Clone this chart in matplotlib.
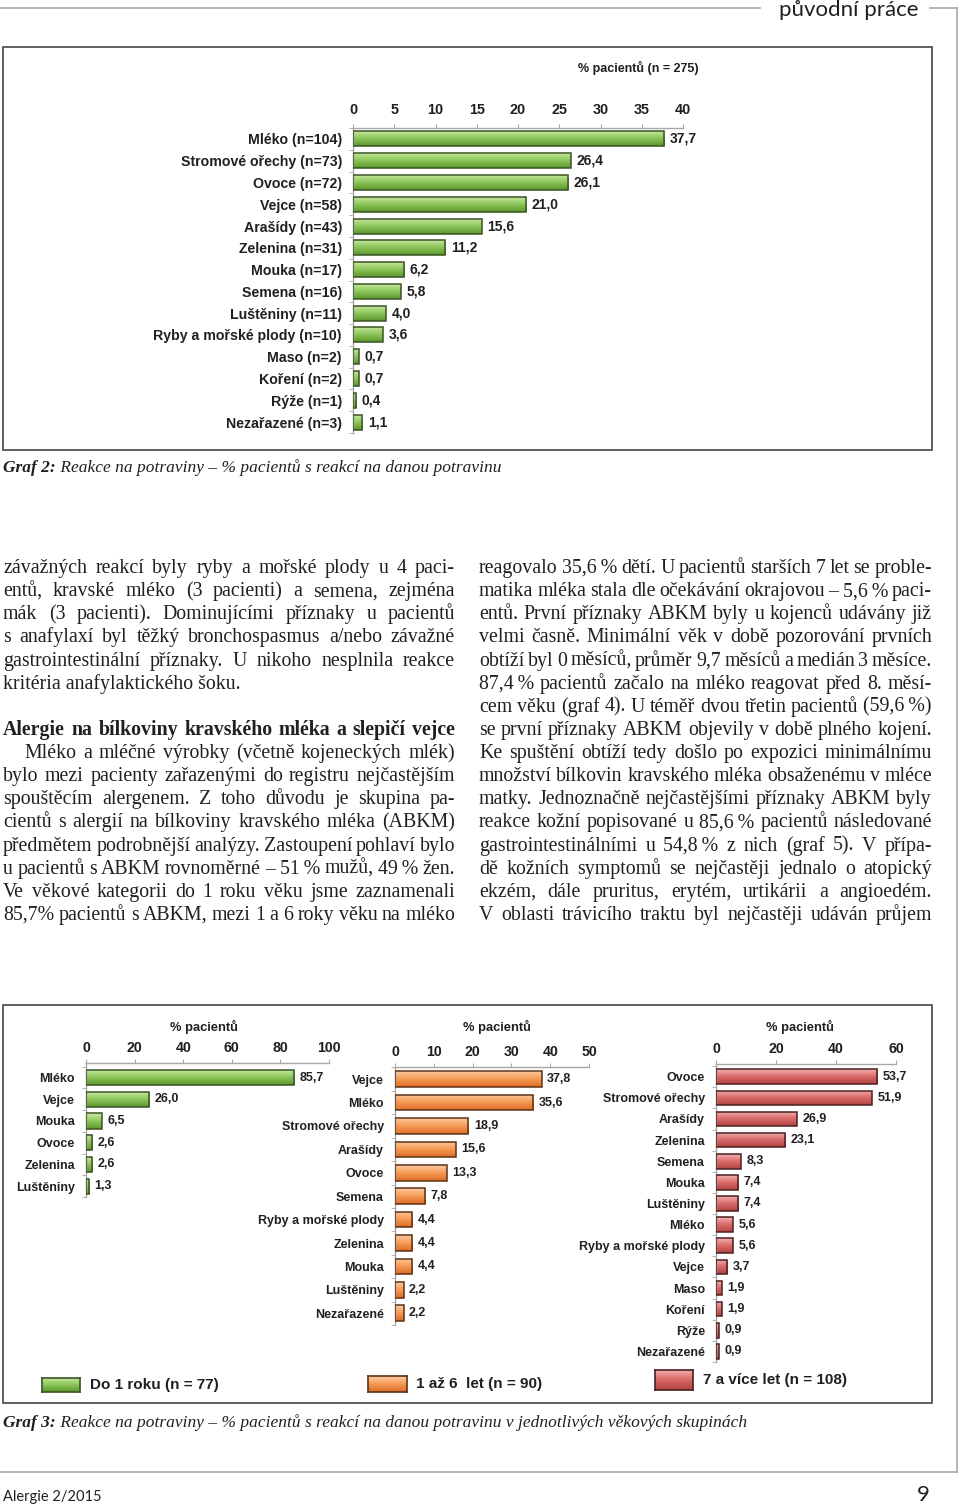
import numpy as np
import matplotlib
matplotlib.use('Agg')
import matplotlib.pyplot as plt
from matplotlib.colors import LinearSegmentedColormap
from matplotlib.lines import Line2D
from matplotlib.patches import Rectangle

# Graf 2 - vsichni pacienti (n = 275)
foods_all = ['Mléko (n=104)', 'Stromové ořechy (n=73)', 'Ovoce (n=72)', 'Vejce (n=58)',
             'Arašídy (n=43)', 'Zelenina (n=31)', 'Mouka (n=17)', 'Semena (n=16)',
             'Luštěniny (n=11)', 'Ryby a mořské plody (n=10)', 'Maso (n=2)',
             'Koření (n=2)', 'Rýže (n=1)', 'Nezařazené (n=3)']
pct_all = [37.7, 26.4, 26.1, 21.0, 15.6, 11.2, 6.2, 5.8, 4.0, 3.6, 0.7, 0.7, 0.4, 1.1]
ticks_all = [0, 5, 10, 15, 20, 25, 30, 35, 40]

# Graf 3 - vekove skupiny
foods_u1 = ['Mléko', 'Vejce', 'Mouka', 'Ovoce', 'Zelenina', 'Luštěniny']
pct_u1 = [85.7, 26.0, 6.5, 2.6, 2.6, 1.3]
ticks_u1 = [0, 20, 40, 60, 80, 100]

foods_1_6 = ['Vejce', 'Mléko', 'Stromové ořechy', 'Arašídy', 'Ovoce', 'Semena',
             'Ryby a mořské plody', 'Zelenina', 'Mouka', 'Luštěniny', 'Nezařazené']
pct_1_6 = [37.8, 35.6, 18.9, 15.6, 13.3, 7.8, 4.4, 4.4, 4.4, 2.2, 2.2]
ticks_1_6 = [0, 10, 20, 30, 40, 50]

foods_7 = ['Ovoce', 'Stromové ořechy', 'Arašídy', 'Zelenina', 'Semena', 'Mouka',
           'Luštěniny', 'Mléko', 'Ryby a mořské plody', 'Vejce', 'Maso', 'Koření',
           'Rýže', 'Nezařazené']
pct_7 = [53.7, 51.9, 26.9, 23.1, 8.3, 7.4, 7.4, 5.6, 5.6, 3.7, 1.9, 1.9, 0.9, 0.9]
ticks_7 = [0, 20, 40, 60]

legend_u1 = 'Do 1 roku (n = 77)'
legend_1_6 = '1 až 6  let (n = 90)'
legend_7 = '7 a více let (n = 108)'

# text clanku
left_col = [
    'závažných reakcí byly ryby a mořské plody u 4 paci-',
    'entů, kravské mléko (3 pacienti) a semena, zejména',
    'mák (3 pacienti). Dominujícími příznaky u pacientů',
    's anafylaxí byl těžký bronchospasmus a/nebo závažné',
    'gastrointestinální příznaky. U nikoho nesplnila reakce',
    'kritéria anafylaktického šoku.',
    '',
    'Alergie na bílkoviny kravského mléka a slepičí vejce',
    'Mléko a mléčné výrobky (včetně kojeneckých mlék)',
    'bylo mezi pacienty zařazenými do registru nejčastějším',
    'spouštěcím alergenem. Z toho důvodu je skupina pa-',
    'cientů s alergií na bílkoviny kravského mléka (ABKM)',
    'předmětem podrobnější analýzy. Zastoupení pohlaví bylo',
    'u pacientů s ABKM rovnoměrné – 51\u2009% mužů, 49\u2009% žen.',
    'Ve věkové kategorii do 1 roku věku jsme zaznamenali',
    '85,7% pacientů s ABKM, mezi 1 a 6 roky věku na mléko',
]
right_col = [
    'reagovalo 35,6\u2009% dětí. U pacientů starších 7 let se proble-',
    'matika mléka stala dle očekávání okrajovou – 5,6\u2009% paci-',
    'entů. První příznaky ABKM byly u kojenců udávány již',
    'velmi časně. Minimální věk v době pozorování prvních',
    'obtíží byl 0 měsíců, průměr 9,7 měsíců a medián 3 měsíce.',
    '87,4\u2009% pacientů začalo na mléko reagovat před 8. měsí-',
    'cem věku (graf 4). U téměř dvou třetin pacientů (59,6\u2009%)',
    'se první příznaky ABKM objevily v době plného kojení.',
    'Ke spuštění obtíží tedy došlo po expozici minimálnímu',
    'množství bílkovin kravského mléka obsaženému v mléce',
    'matky. Jednoznačně nejčastějšími příznaky ABKM byly',
    'reakce kožní popisované u 85,6\u2009% pacientů následované',
    'gastrointestinálními u 54,8\u2009% z nich (graf 5). V přípa-',
    'dě kožních symptomů se nejčastěji jednalo o atopický',
    'ekzém, dále pruritus, erytém, urtikárii a angioedém.',
    'V oblasti trávicího traktu byl nejčastěji udáván průjem',
]

TXT = '#231f20'
GRID = '#a8a8a8'
SANS = 'Liberation Sans'
SERIF = 'Liberation Serif'
BODY_FS = 14.3
GREEN = ('#cdeca6', '#8dc65a', '#5c982e', '#3b5323')
ORANGE = ('#fdcaa0', '#f59a55', '#dd6c26', '#5c3317')
RED = ('#f2b0b0', '#d96a68', '#b44444', '#4a2020')

W, H = 960, 1509
fig = plt.figure(figsize=(W / 100, H / 100), dpi=100)
renderer = fig.canvas.get_renderer()


def fx(x):
    return x / W


def fy(y):
    return 1 - y / H


def add_ax(x0, x1, y0, y1):
    return fig.add_axes([fx(x0), fy(y1), (x1 - x0) / W, (y1 - y0) / H])


def grad_fill(ax, patch, colors):
    cmap = LinearSegmentedColormap.from_list('g', colors[:3])
    x, y = patch.get_x(), patch.get_y()
    im = ax.imshow(np.linspace(0, 1, 64).reshape(-1, 1), cmap=cmap,
                   extent=(x, x + patch.get_width(), y + patch.get_height(), y),
                   aspect='auto', zorder=2, interpolation='bilinear')
    im.set_clip_path(patch)


def bar_panel(ax, labels, values, ticks, ylim, h, colors, lab_fs, tick_fs, val_fs, tick_pad):
    ys = np.arange(len(values))
    bars = ax.barh(ys, values, height=h, color='none', edgecolor=colors[3],
                   linewidth=1.1, zorder=3)
    for b in bars:
        grad_fill(ax, b, colors)
    ax.bar_label(bars, labels=[f'{v:.1f}'.replace('.', ',') for v in values],
                 padding=4, fontsize=val_fs, fontweight='bold', color=TXT, family=SANS)
    ax.set_xlim(0, ticks[-1])
    ax.set_ylim(*ylim)
    ax.xaxis.set_ticks_position('top')
    ax.set_xticks(ticks)
    ax.set_xticklabels([str(t) for t in ticks], fontsize=tick_fs, fontweight='bold',
                       color=TXT, family=SANS)
    ax.set_yticks(ys)
    ax.set_yticklabels(labels, fontsize=lab_fs, fontweight='bold', color=TXT, family=SANS)
    ax.set_yticks(np.arange(len(values) + 1) - 0.5, minor=True)
    ax.tick_params(axis='x', length=3, color=GRID, pad=tick_pad)
    ax.tick_params(axis='y', which='major', length=0, pad=8)
    ax.tick_params(axis='y', which='minor', length=3, color=GRID)
    for s in ('right', 'bottom'):
        ax.spines[s].set_visible(False)
    for s in ('left', 'top'):
        ax.spines[s].set_color(GRID)
        ax.spines[s].set_linewidth(1)
    ax.patch.set_alpha(0)


def swatch(x0, x1, y0, y1, colors):
    sax = add_ax(x0, x1, y0, y1)
    cmap = LinearSegmentedColormap.from_list('g', colors[:3])
    sax.imshow(np.linspace(0, 1, 32).reshape(-1, 1), cmap=cmap, aspect='auto',
               interpolation='bilinear')
    sax.set_xticks([])
    sax.set_yticks([])
    for s in sax.spines.values():
        s.set_color(colors[3])
        s.set_linewidth(1.2)


def justify(line, x0, x1, y, size=BODY_FS, weight='normal'):
    words = line.split(' ')
    arts = [fig.text(0, fy(y), w, fontsize=size, fontweight=weight, family=SERIF,
                     va='baseline', color=TXT) for w in words]
    widths = [a.get_window_extent(renderer).width for a in arts]
    gap = (x1 - x0 - sum(widths)) / max(len(words) - 1, 1)
    x = x0
    for a, w in zip(arts, widths):
        a.set_x(fx(x))
        x += w + gap


# ramecek stranky
fig.add_artist(Line2D([0, fx(760)], [fy(8), fy(8)], color=GRID, lw=1.2))
fig.add_artist(Line2D([fx(930), fx(957)], [fy(8), fy(8)], color=GRID, lw=1.2))
fig.add_artist(Line2D([fx(957), fx(957)], [fy(8), fy(1472)], color=GRID, lw=1.2))
fig.add_artist(Line2D([0, fx(957)], [fy(1472), fy(1472)], color=GRID, lw=1.2))
fig.text(fx(779), fy(10), 'původní práce', fontsize=16, family='Lato', color=TXT, va='center')
fig.text(fx(3), fy(1497), 'Alergie 2/2015', fontsize=10.5, family='Lato', color=TXT, va='center')
fig.text(fx(930), fy(1495), '9', fontsize=16, family='Lato', color=TXT, va='center', ha='right')

# ramecky grafu
fig.add_artist(Rectangle((fx(3), fy(450)), fx(929), (450 - 47) / H, fill=False,
                         edgecolor='#555555', lw=1.3))
fig.add_artist(Rectangle((fx(3), fy(1403)), fx(929), (1403 - 1005) / H, fill=False,
                         edgecolor='#555555', lw=1.3))

# Graf 2
ax = add_ax(353, 683, 128, 433)
bar_panel(ax, foods_all, pct_all, ticks_all, (13.5, -0.5), 0.69, GREEN, 10.2, 10.4, 10, 5)
fig.text(fx(638), fy(68), '% pacientů (n = 275)', fontsize=9, fontweight='bold',
         family=SANS, color=TXT, ha='center', va='center')

# Graf 3
ax1 = add_ax(86, 329, 1063, 1197)
bar_panel(ax1, foods_u1, pct_u1, ticks_u1, (5.5, -0.67), 0.70, GREEN, 9, 10.2, 9, 3)
ax2 = add_ax(395, 589, 1067, 1325)
bar_panel(ax2, foods_1_6, pct_1_6, ticks_1_6, (10.45, -0.52), 0.67, ORANGE, 9, 10.2, 9, 3)
ax3 = add_ax(716, 896, 1064, 1362)
bar_panel(ax3, foods_7, pct_7, ticks_7, (13.4, -0.6), 0.69, RED, 9, 10.2, 9, 3)
for cx in (204, 497, 800):
    fig.text(fx(cx), fy(1027), '% pacientů', fontsize=9.3, fontweight='bold',
             family=SANS, color=TXT, ha='center', va='center')

swatch(42, 80, 1378, 1392, GREEN)
fig.text(fx(90), fy(1385), legend_u1, fontsize=11, fontweight='bold', family=SANS,
         color=TXT, va='center')
swatch(368, 407, 1376, 1392, ORANGE)
fig.text(fx(416), fy(1384), legend_1_6, fontsize=11, fontweight='bold', family=SANS,
         color=TXT, va='center')
swatch(655, 693, 1370, 1390, RED)
fig.text(fx(703), fy(1380), legend_7, fontsize=11, fontweight='bold', family=SANS,
         color=TXT, va='center')

# popisky grafu
for label, rest, y in (('Graf 2:', ' Reakce na potraviny – % pacientů s reakcí na danou potravinu', 472),
                       ('Graf 3:', ' Reakce na potraviny – % pacientů s reakcí na danou potravinu'
                                   ' v jednotlivých věkových skupinách', 1427)):
    t = fig.text(fx(3), fy(y), label, fontsize=12.5, fontweight='bold', style='italic',
                 family=SERIF, color=TXT, va='baseline')
    w = t.get_window_extent(renderer).width
    fig.text(fx(3 + w), fy(y), rest, fontsize=12.5, style='italic', family=SERIF,
             color=TXT, va='baseline')

# text ve dvou sloupcich
BASE, STEP = 573, 23.13
for i, line in enumerate(left_col):
    y = BASE + i * STEP
    if not line:
        continue
    if i == 5:
        fig.text(fx(3), fy(y), line, fontsize=BODY_FS, family=SERIF, color=TXT, va='baseline')
    elif i == 7:
        justify(line, 3, 455, y, weight='bold')
    elif i == 8:
        justify(line, 24, 455, y)
    else:
        justify(line, 3, 455, y)
for i, line in enumerate(right_col):
    justify(line, 479, 932, BASE + i * STEP)

fig.savefig('out.png', dpi=100)
